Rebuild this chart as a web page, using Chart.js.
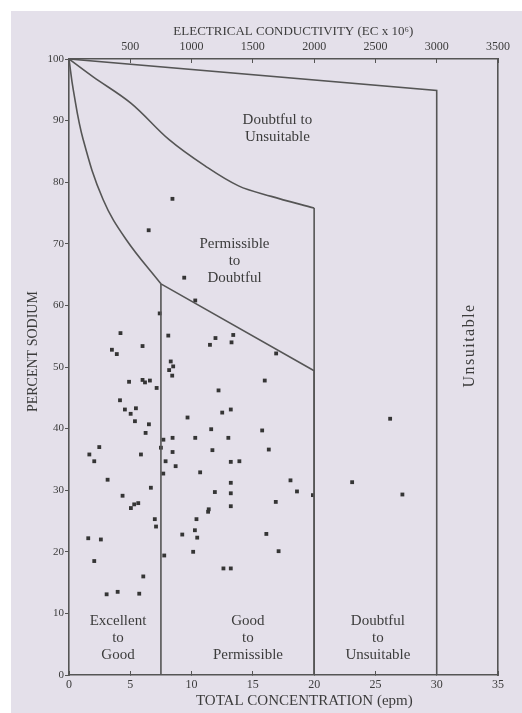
<!DOCTYPE html>
<html>
<head>
<meta charset="utf-8">
<script src="https://cdn.jsdelivr.net/npm/chart.js@4.4.1/dist/chart.umd.min.js"></script>
<style>
  html, body { margin: 0; padding: 0; background: #fff; }
  #wrap { width: 522px; height: 713px; }
</style>
</head>
<body>
<div id="wrap"><canvas id="wilcox"></canvas></div>
<script>
// ---- DATA ----
const tcTicks = [0, 5, 10, 15, 20, 25, 30, 35];
const ecTicks = [500, 1000, 1500, 2000, 2500, 3000, 3500];
const naTicks = [0, 10, 20, 30, 40, 50, 60, 70, 80, 90, 100];

// samples: total concentration (epm), percent sodium
const sampleTC = [
  4.2, 6.0, 3.5, 3.9, 7.4, 6.5, 4.9, 6.0, 6.2, 6.6, 7.15, 4.16, 4.56, 5.03, 5.46, 5.38,
  6.52, 6.25, 2.47, 1.66, 2.06, 5.87, 3.15, 6.68, 4.37, 5.05, 5.32, 5.65, 7.0, 7.1,
  1.57, 2.6, 2.06, 6.06, 3.07, 3.97, 5.73, 7.5, 7.7, 7.69, 7.77,
  8.44, 9.4, 10.3, 8.1, 11.5, 11.95, 13.26, 13.4, 8.3, 8.5, 8.17, 8.42, 12.2, 16.9,
  15.97, 9.67, 12.5, 13.2, 11.6, 8.45, 10.3, 13.0, 15.76, 8.45, 7.88, 8.7, 11.7, 10.7,
  13.2, 13.9, 16.3, 11.9, 13.2, 13.2, 13.2, 11.35, 11.4, 10.4, 10.27, 10.46, 9.24,
  10.13, 12.6, 13.2, 18.07, 18.6, 19.9, 16.87, 16.1, 17.1,
  23.1, 26.2, 27.2
];
const sampleNa = [
  55.5, 53.4, 52.8, 52.1, 58.7, 72.2, 47.6, 47.9, 47.5, 47.8, 46.6, 44.6, 43.1, 42.4, 43.3, 41.2,
  40.7, 39.3, 37.0, 35.8, 34.7, 35.8, 31.7, 30.4, 29.1, 27.1, 27.7, 27.9, 25.3, 24.1,
  22.2, 22.0, 18.5, 16.0, 13.1, 13.5, 13.2, 36.9, 38.2, 32.7, 19.4,
  77.3, 64.5, 60.8, 55.1, 53.6, 54.7, 54.0, 55.2, 50.9, 50.1, 49.5, 48.6, 46.2, 52.2,
  47.8, 41.8, 42.6, 43.1, 39.9, 38.5, 38.5, 38.5, 39.7, 36.2, 34.7, 33.9, 36.5, 32.9,
  34.6, 34.7, 36.6, 29.7, 31.2, 29.5, 27.4, 26.5, 26.9, 25.3, 23.5, 22.3, 22.8,
  20.0, 17.3, 17.3, 31.6, 29.8, 29.2, 28.1, 22.9, 20.1,
  31.3, 41.6, 29.3
];

// class boundaries
const unsuitTC = [0, 30, 30];
const unsuitNa = [100, 94.9, 0];
const doubtCurveTC = [0, 1.97, 5.07, 8.17, 11.13, 13.83, 16.5, 20];
const doubtCurveNa = [100, 97.1, 92.8, 86.9, 82.6, 79.4, 77.7, 75.8];
const doubtVertTC = [20, 20];
const doubtVertNa = [75.8, 0];
const permCurveTC = [0, 0.35, 1.16, 2.78, 4.66, 7.5];
const permCurveNa = [100, 95.0, 86.9, 77.2, 70.7, 63.5];
const permLineTC = [7.5, 20, 20];
const permLineNa = [63.5, 49.4, 0];
const goodVertTC = [7.5, 7.5];
const goodVertNa = [63.5, 0];

// region labels: [text lines, tc, na]
const regionLabels = [
  [['Doubtful to', 'Unsuitable'], 17.0, 90.1],
  [['Permissible', 'to', 'Doubtful'], 13.5, 70.0],
  [['Excellent', 'to', 'Good'], 4.0, 8.8],
  [['Good', 'to', 'Permissible'], 14.6, 8.8],
  [['Doubtful', 'to', 'Unsuitable'], 25.2, 8.8],
];

const INK = '#3c3c3c';
const LINE = '#555';
const SERIF = '"Liberation Serif", "DejaVu Serif", serif';

function pairs(xs, ys) {
  return xs.map((x, i) => ({ x, y: ys[i] }));
}

function boundary(xs, ys, tension) {
  return {
    type: 'line',
    data: pairs(xs, ys),
    borderColor: LINE,
    borderWidth: 1.6,
    pointRadius: 0,
    tension: tension || 0,
    fill: false,
  };
}

// ---- BACKGROUND + TEXT ----
const paperPlugin = {
  id: 'paper',
  beforeDraw(chart) {
    const c = chart.ctx;
    c.save();
    c.fillStyle = '#ffffff';
    c.fillRect(0, 0, chart.width, chart.height);
    c.fillStyle = '#e4e0ea';
    c.fillRect(11, 11, chart.width - 11, chart.height - 11);
    c.restore();
  },
  afterDraw(chart) {
    const c = chart.ctx;
    const xs = chart.scales.x, ys = chart.scales.y;
    c.save();
    c.fillStyle = INK;
    c.textAlign = 'center';
    c.textBaseline = 'middle';

    c.font = '15px ' + SERIF;
    regionLabels.forEach(([lines, tc, na]) => {
      const px = xs.getPixelForValue(tc);
      const py = ys.getPixelForValue(na);
      lines.forEach((t, i) => c.fillText(t, px, py + i * 17));
    });

    // vertical "Unsuitable"
    c.save();
    c.translate(xs.getPixelForValue(32.7), ys.getPixelForValue(53.5));
    c.rotate(-Math.PI / 2);
    c.font = '16px ' + SERIF;
    c.letterSpacing = '1.5px';
    c.fillText('Unsuitable', 0, 0);
    c.restore();

    // axis titles
    c.font = '13px ' + SERIF;
    c.fillText('ELECTRICAL CONDUCTIVITY (EC x 10\u2076)', xs.getPixelForValue(18.3), 32);
    c.font = '15px ' + SERIF;
    c.fillText('TOTAL CONCENTRATION (epm)', xs.getPixelForValue(19.2), 701);
    c.save();
    c.translate(33, ys.getPixelForValue(52.5));
    c.rotate(-Math.PI / 2);
    c.font = '14px ' + SERIF;
    c.fillText('PERCENT SODIUM', 0, 0);
    c.restore();
    c.restore();
  },
};

const tickFont = { family: SERIF, size: 12 };

new Chart(document.getElementById('wilcox'), {
  type: 'scatter',
  data: {
    datasets: [
      boundary(unsuitTC, unsuitNa),
      boundary(doubtCurveTC, doubtCurveNa, 0.35),
      boundary(doubtVertTC, doubtVertNa),
      boundary(permCurveTC, permCurveNa, 0.4),
      boundary(permLineTC, permLineNa),
      boundary(goodVertTC, goodVertNa),
      {
        type: 'scatter',
        data: pairs(sampleTC, sampleNa),
        pointStyle: 'rect',
        pointRadius: 2.7,
        backgroundColor: '#353535',
        borderColor: '#353535',
        borderWidth: 0,
      },
    ],
  },
  options: {
    responsive: true,
    maintainAspectRatio: false,
    animation: false,
    layout: { padding: 0 },
    plugins: { legend: { display: false }, tooltip: { enabled: false } },
    scales: {
      x: {
        type: 'linear', position: 'bottom', min: 0, max: 35,
        afterBuildTicks: s => { s.ticks = tcTicks.map(v => ({ value: v })); },
        afterFit: s => { s.height = 38; },
        grid: { drawOnChartArea: false, tickLength: -4, color: LINE },
        border: { color: LINE, width: 1.6 },
        ticks: { color: INK, font: tickFont, padding: 7, maxRotation: 0, callback: v => String(v) },
      },
      x2: {
        type: 'linear', position: 'top', min: 0, max: 3500,
        afterBuildTicks: s => { s.ticks = ecTicks.map(v => ({ value: v })); },
        afterFit: s => { s.height = 59; },
        grid: { drawOnChartArea: false, tickLength: -4, color: LINE },
        border: { color: LINE, width: 1.6 },
        ticks: { color: INK, font: tickFont, padding: 9, maxRotation: 0, callback: v => String(v) },
      },
      y: {
        type: 'linear', position: 'left', min: 0, max: 100,
        afterBuildTicks: s => { s.ticks = naTicks.map(v => ({ value: v })); },
        afterFit: s => { s.width = 69; },
        grid: { drawOnChartArea: false, tickLength: 4, color: LINE },
        border: { color: LINE, width: 1.6 },
        ticks: { color: INK, font: { family: SERIF, size: 11 }, padding: 1, callback: v => String(v) },
      },
      y2: {
        type: 'linear', position: 'right', min: 0, max: 100,
        afterFit: s => { s.width = 24; },
        grid: { display: false, drawTicks: false },
        border: { color: LINE, width: 1.6 },
        ticks: { display: false },
      },
    },
  },
  plugins: [paperPlugin],
});
</script>
</body>
</html>
